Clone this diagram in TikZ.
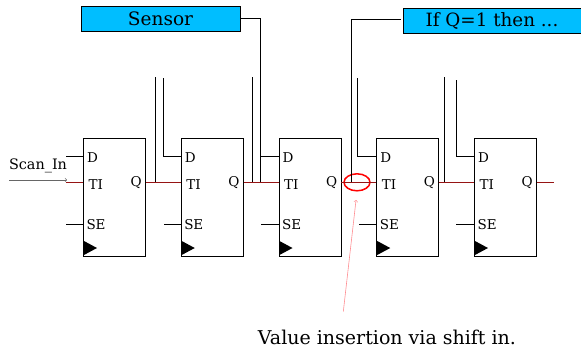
\documentclass[tikz,border=0pt]{standalone}
\usepackage{fontspec}
\setmainfont{DejaVu Serif}
\usetikzlibrary{arrows,positioning,shapes.geometric}
\definecolor{notefill}{RGB}{0,190,255}
\definecolor{scanred}{RGB}{150,20,20}
\definecolor{hintpink}{RGB}{255,140,145}

\begin{document}
\begin{tikzpicture}[x=1pt,y=-1pt,>=to,node distance=97.75pt,line width=0.8pt]
	  \tikzstyle{flop}=[rectangle,draw=black,minimum width=62pt,minimum height=118pt,inner sep=0pt]
	  \tikzstyle{port}=[anchor=west,inner sep=0pt,font=\fontsize{13.5}{14}\selectfont]
	  \tikzstyle{clk}=[isosceles triangle,isosceles triangle stretches,fill=black,inner sep=0pt,
	                   minimum width=14.5pt,minimum height=13.5pt,anchor=lower side]
	  \tikzstyle{note}=[rectangle,draw=black,fill=notefill,inner sep=0pt]
	  \tikzstyle{scan}=[draw=scanred,line width=0.9pt]

	  \useasboundingbox (0,0) rectangle (581,351);

	  \node[flop] (F1) at (114.5,197) {};
	  \node[flop] (F2) [right of=F1] {};
	  \node[flop] (F3) [right of=F2] {};
	  \node[flop] (F4) [right of=F3] {};
	  \node[flop] (F5) [right of=F4] {};

	  \path (F1.west) +(3.5,-39) node[port] (D1) {D} +(5,-12) node[port] (TI1) {TI} +(3,27.5) node[port] (SE1) {SE}
	        +(47,-14) node[port] (Q1) {Q} +(0,51) node[clk] (C1) {};
	  \path (F2.west) +(3.5,-39) node[port] (D2) {D} +(5,-12) node[port] (TI2) {TI} +(3,27.5) node[port] (SE2) {SE}
	        +(47,-14) node[port] (Q2) {Q} +(0,51) node[clk] (C2) {};
	  \path (F3.west) +(3.5,-39) node[port] (D3) {D} +(5,-12) node[port] (TI3) {TI} +(3,27.5) node[port] (SE3) {SE}
	        +(47,-14) node[port] (Q3) {Q} +(0,51) node[clk] (C3) {};
	  \path (F4.west) +(3.5,-39) node[port] (D4) {D} +(5,-12) node[port] (TI4) {TI} +(3,27.5) node[port] (SE4) {SE}
	        +(47,-14) node[port] (Q4) {Q} +(0,51) node[clk] (C4) {};
	  \path (F5.west) +(3.5,-39) node[port] (D5) {D} +(5,-12) node[port] (TI5) {TI} +(3,27.5) node[port] (SE5) {SE}
	        +(47,-14) node[port] (Q5) {Q} +(0,51) node[clk] (C5) {};

	  \node[note,font=\fontsize{18.5}{18.5}\selectfont,minimum width=159pt,minimum height=25pt] (Sensor) at (160.5,18.5) {Sensor};
	  \node[note,font=\fontsize{18.3}{18.3}\selectfont,minimum width=180pt,minimum height=25pt] (IfQ) at (493,21) {\hspace{-2pt}If Q=1 then ...};
	  \node[inner sep=0pt,font=\fontsize{14.4}{14}\selectfont] (ScanIn) at (38,166) {Scan\_In};
	  \node[inner sep=0pt,font=\fontsize{19}{19}\selectfont] (Insert) at (387,337) {Value insertion via shift in.};
	  \node[ellipse,draw=red,line width=1.5pt,inner sep=0pt,minimum width=26pt,minimum height=17pt] (Mark) at (357,182.3) {};

	  % free ends of the wires
	  \coordinate (in1) at (66,182);
	  \coordinate (out5) at (554,182);
	  \coordinate (arrowin) at (9,180);
	  \coordinate (arrowout) at (67,180);
	  \coordinate (hint) at (343.3,311.7);
	  \coordinate (tap1) at (155.5,77);
	  \coordinate (tap2) at (252.7,77);
	  \coordinate (tap4) at (444.3,77);
	  \coordinate (dtop2) at (163.3,78);
	  \coordinate (dtop4) at (357.3,78);
	  \coordinate (dtop5) at (456.7,80);
	  \coordinate (dleft1) at (66,156);
	  \coordinate (sleft1) at (66,224.7);
	  \coordinate (sleft2) at (164,224.7);
	  \coordinate (sleft3) at (261,224.7);
	  \coordinate (sleft4) at (359,224.7);
	  \coordinate (sleft5) at (456,224.7);
	  \coordinate (bus3) at (260.7,182);
	  \coordinate (bus4) at (351.7,182);

	  % scan chain
	  \draw[scan] (in1) -- (in1 -| F1.west);
	  \draw[scan] (in1 -| F1.east) -- (in1 -| F2.west);
	  \draw[scan] (in1 -| F2.east) -- (in1 -| F3.west);
	  \draw[scan] (in1 -| F3.east) -- (in1 -| F4.west);
	  \draw[scan] (in1 -| F4.east) -- (in1 -| F5.west);
	  \draw[scan] (in1 -| F5.east) -- (out5);
	  \draw[->,draw=black!60,line width=0.6pt] (arrowin) -- (arrowout);

	  % D and SE pins
	  \draw (dleft1) -- (dleft1 -| F1.west);
	  \draw (dtop2) |- (dleft1 -| F2.west);
	  \draw (bus3 |- dleft1) -- (dleft1 -| F3.west);
	  \draw (dtop4) |- (dleft1 -| F4.west);
	  \draw (dtop5) |- (dleft1 -| F5.west);
	  \draw (sleft1) -- (sleft1 -| F1.west);
	  \draw (sleft2) -- (sleft2 -| F2.west);
	  \draw (sleft3) -- (sleft3 -| F3.west);
	  \draw (sleft4) -- (sleft4 -| F4.west);
	  \draw (sleft5) -- (sleft5 -| F5.west);

	  % taps going up from the Q outputs
	  \draw (tap1) -- (tap1 |- in1);
	  \draw (tap2) -- (tap2 |- in1);
	  \draw (tap4) -- (tap4 |- in1);
	  \draw (Sensor.east) -| (bus3);
	  \draw (bus4) |- ([shift={(-2,-1.3)}]IfQ.west);

	  \draw[->,draw=hintpink,line width=0.6pt,shorten >=8.5pt] (hint) -- (Mark.south);
\end{tikzpicture}
\end{document}
